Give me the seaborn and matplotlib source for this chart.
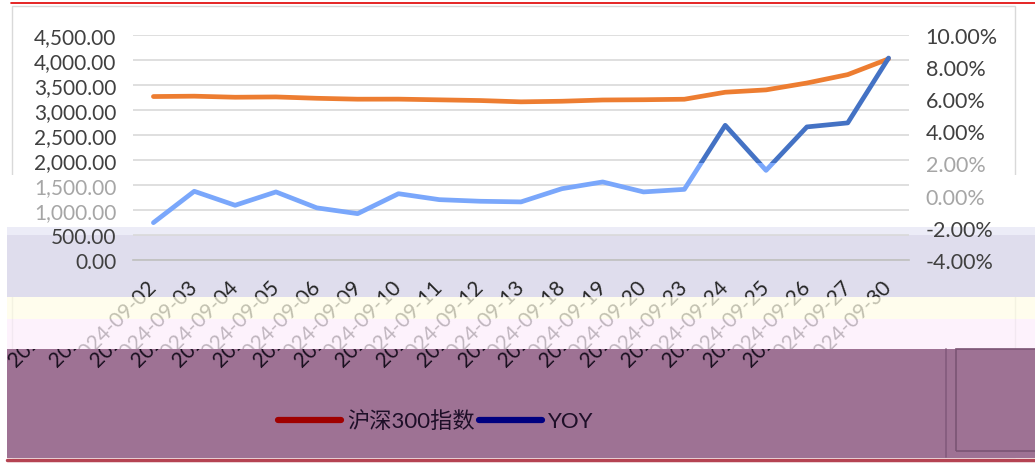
import matplotlib
matplotlib.use("Agg")
import matplotlib.pyplot as plt
import seaborn as sns
import pandas as pd
from matplotlib.patches import Rectangle
from matplotlib.lines import Line2D
from matplotlib.text import Text
from matplotlib.transforms import ScaledTranslation, Bbox

# data
dates = ["2024-09-02", "2024-09-03", "2024-09-04", "2024-09-05", "2024-09-06",
         "2024-09-09", "2024-09-10", "2024-09-11", "2024-09-12", "2024-09-13",
         "2024-09-18", "2024-09-19", "2024-09-20", "2024-09-23", "2024-09-24",
         "2024-09-25", "2024-09-26", "2024-09-27", "2024-09-30"]
csi300 = [3265, 3272, 3251, 3257, 3230, 3212, 3213, 3199, 3185, 3159,
          3171, 3196, 3201, 3211, 3351, 3398, 3535, 3703, 4017]
yoy = [-1.68, 0.27, -0.60, 0.23, -0.76, -1.12, 0.12, -0.25, -0.35, -0.39,
       0.43, 0.85, 0.23, 0.39, 4.37, 1.57, 4.27, 4.52, 8.55]
left_ticks = [0, 500, 1000, 1500, 2000, 2500, 3000, 3500, 4000, 4500]
right_ticks = [-4, -2, 0, 2, 4, 6, 8, 10]
legend_labels = ["沪深300指数", "YOY"]

df = pd.DataFrame({"date": dates, "csi300": csi300, "yoy": yoy})

sns.set_style("white")
plt.rcParams["font.family"] = ["Lato", "Noto Sans CJK SC", "DejaVu Sans"]

W, H = 1035, 464
fig = plt.figure(figsize=(W / 100, H / 100), dpi=100)
fig.patch.set_facecolor("white")


def band(x0, y0, x1, y1, **kw):
    # rectangle in pixel coords of the screenshot
    r = Rectangle((x0 / W, 1 - y1 / H), (x1 - x0) / W, (y1 - y0) / H,
                  transform=fig.transFigure, **kw)
    fig.add_artist(r)
    return r


def hline(x0, x1, y, **kw):
    fig.add_artist(Line2D([x0 / W, x1 / W], [1 - y / H, 1 - y / H],
                          transform=fig.transFigure, **kw))


def vline(x, y0, y1, **kw):
    fig.add_artist(Line2D([x / W, x / W], [1 - y0 / H, 1 - y1 / H],
                          transform=fig.transFigure, **kw))


# chart frame and the glitchy background bands of the screenshot
band(12, 7, 1015, 458, facecolor="white", edgecolor="#d9d9d9", lw=1, zorder=-5)
band(0, 176, 1031, 228, facecolor="white", edgecolor="none", zorder=-4)
band(7, 228, 1035, 298, facecolor="#dfdded", edgecolor="none", zorder=-4)
band(7, 228, 1035, 236, facecolor="#ececf7", edgecolor="none", zorder=-4)
hline(11, 1035, 4, color="#e00000", lw=1.2)
band(7, 298, 1035, 320, facecolor="#fffde6", edgecolor="none", alpha=0.72, zorder=5)
band(7, 320, 1035, 350, facecolor="#fdeefb", edgecolor="none", alpha=0.72, zorder=5)
# bottom strip drawn over the axes so the real tick labels stop at its edge
band(7, 350, 1035, 459, facecolor="#9e7294", edgecolor="none", zorder=5.1)
band(956, 350, 1040, 452, facecolor="none", edgecolor="#7b5474", lw=1.2, zorder=5.2)
vline(946, 350, 458, color="#835a7c", lw=1.2, zorder=5.2)
hline(7, 1035, 460.5, color="#b54352", lw=2.5, zorder=5.2)

ax = fig.add_axes([133 / W, 1 - 261 / H, (909 - 133) / W, (261 - 35.7) / H])
ax.set_facecolor("none")
ax2 = ax.twinx()

sns.lineplot(data=df, x="date", y="csi300", ax=ax, color="#ed7d31", lw=3.4,
             legend=False, zorder=3)
sns.lineplot(data=df, x="date", y="yoy", ax=ax2, color="#4472c4", lw=3.4,
             legend=False)
sns.lineplot(data=df, x="date", y="yoy", ax=ax2, color="#7aa7fb", lw=3.4,
             legend=False)
# upper part dark blue, lower part washed out like the screenshot
split = 0.43
ax2.lines[0].set_clip_path(Rectangle((0, split), 1, 1 - split, transform=ax2.transAxes))
ax2.lines[1].set_clip_path(Rectangle((0, 0), 1, split, transform=ax2.transAxes))

ax.set_xlim(-0.5, len(dates) - 0.5)
ax.set_ylim(0, 4500)
ax2.set_ylim(-4, 10)

ax.set_yticks(left_ticks)
ax.set_yticklabels([f"{v:,.2f}" for v in left_ticks])
ax2.set_yticks(right_ticks)
ax2.set_yticklabels([f"{v:.2f}%" for v in right_ticks])

ax.grid(axis="y", color="#d9d9d9", lw=1.2)
ax.grid(axis="x", visible=False)
ax2.grid(False)
for s in ["top", "left", "right"]:
    ax.spines[s].set_visible(False)
    ax2.spines[s].set_visible(False)
ax2.spines["bottom"].set_visible(False)
ax.spines["bottom"].set_color("#bfbfbf")
ax.spines["bottom"].set_linewidth(1.2)

xpad = 17
ax.tick_params(axis="y", length=0, pad=12, labelsize=15, labelcolor="#404040")
ax2.tick_params(axis="y", length=0, pad=12, labelsize=15.5, labelcolor="#404040")
ax.tick_params(axis="x", length=0, pad=xpad, labelsize=15, labelcolor="#262626")
for lab in ax.get_xticklabels():
    lab.set_rotation(45)
    lab.set_ha("right")
    lab.set_va("center")
    lab.set_rotation_mode("anchor")

# the bottom strip of the screenshot is shifted left: draw a shifted copy there
shift = ScaledTranslation(-62 / 100, -xpad / 72, fig.dpi_scale_trans)
strip = Bbox.from_extents(0, 0, W, H - 350)
for i, d in enumerate(dates):
    t = Text(i, 0, d, rotation=45, ha="right", va="center", rotation_mode="anchor",
             fontsize=15, color="#1a1020",
             transform=ax.get_xaxis_transform() + shift, zorder=5.3)
    t.set_clip_box(strip)
    t.set_clip_on(True)
    fig.add_artist(t)

for lab, v in zip(ax.get_yticklabels(), left_ticks):
    if v in (1000, 1500):
        lab.set_color("#a6a6a6")
for lab, v in zip(ax2.get_yticklabels(), right_ticks):
    if v in (0, 2):
        lab.set_color("#a6a6a6")

ax.set_xlabel("")
ax.set_ylabel("")
ax2.set_ylabel("")

handles = [Line2D([], [], color="#a00000", lw=4.5, solid_capstyle="round"),
           Line2D([], [], color="#000080", lw=4.5, solid_capstyle="round")]
leg = fig.legend(handles, legend_labels, loc="center", bbox_to_anchor=(436 / W, 1 - 422 / H),
                 ncol=2, frameon=False, fontsize=16, handlelength=2.8,
                 handletextpad=0.3, columnspacing=0.2, labelcolor="#1e0f28")
leg.set_zorder(6)

fig.savefig("out.png", dpi=100)
